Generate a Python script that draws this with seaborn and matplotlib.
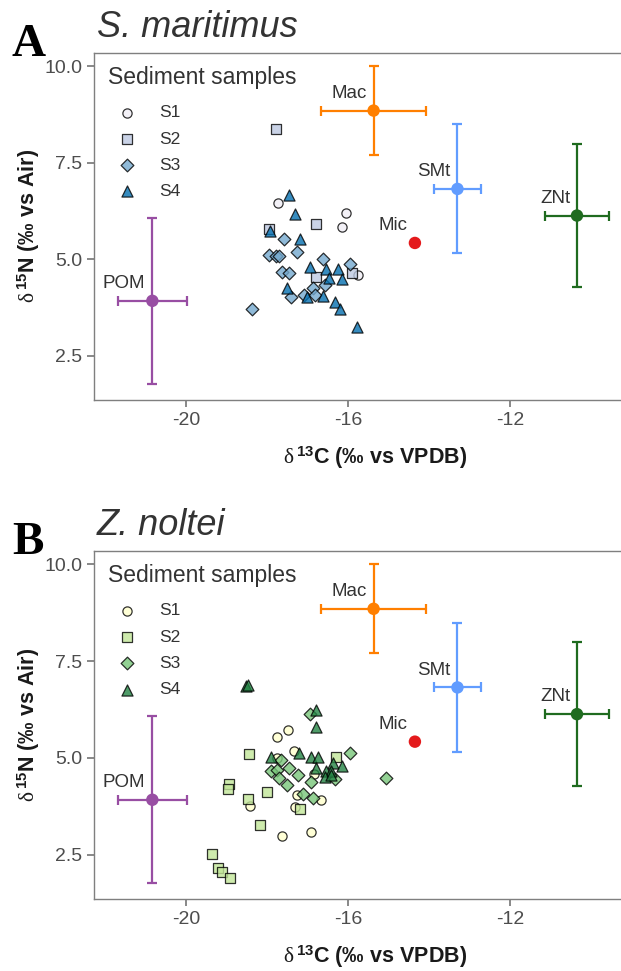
import matplotlib
matplotlib.use("Agg")
import matplotlib.pyplot as plt
import pandas as pd
import seaborn as sns

# sediment samples under S. maritimus (panel A)
sm_s1_c13 = [-17.73, -16.06, -16.15, -15.75]
sm_s1_n15 = [6.45, 6.20, 5.83, 4.58]
sm_s2_c13 = [-17.79, -16.80, -17.95, -16.80, -15.91]
sm_s2_n15 = [8.37, 5.92, 5.77, 4.54, 4.64]
sm_s3_c13 = [-17.58, -17.25, -17.95, -17.79, -17.71, -16.62, -15.96, -17.62,
             -17.46, -16.58, -16.87, -17.08, -16.81, -17.41, -18.37]
sm_s3_n15 = [5.53, 5.18, 5.12, 5.08, 5.07, 5.00, 4.87, 4.67,
             4.63, 4.32, 4.24, 4.06, 4.06, 4.02, 3.72]
sm_s4_c13 = [-17.45, -17.31, -17.93, -17.18, -16.93, -16.54, -16.26, -16.46,
             -16.15, -17.51, -17.01, -16.62, -16.33, -16.21, -15.79]
sm_s4_n15 = [6.65, 6.16, 5.73, 5.53, 4.80, 4.75, 4.75, 4.50,
             4.48, 4.26, 4.02, 4.04, 3.89, 3.72, 3.25]

# sediment samples under Z. noltei (panel B)
zn_s1_c13 = [-17.48, -17.75, -17.33, -17.75, -16.83, -17.26, -16.68, -17.31,
             -18.43, -17.64, -16.91]
zn_s1_n15 = [5.71, 5.54, 5.19, 4.99, 4.58, 4.04, 3.91, 3.74, 3.76, 2.99, 3.08]
zn_s2_c13 = [-18.44, -18.93, -18.96, -18.48, -18.00, -18.18, -17.18, -16.29,
             -19.37, -19.20, -19.11, -18.91]
zn_s2_n15 = [5.10, 4.33, 4.20, 3.95, 4.11, 3.26, 3.67, 5.03, 2.51, 2.16, 2.06, 1.91]
zn_s3_c13 = [-16.95, -17.66, -17.90, -17.75, -17.70, -17.51, -17.46, -17.23,
             -16.91, -15.96, -16.33, -17.10, -16.87, -15.06]
zn_s3_n15 = [6.14, 4.95, 4.65, 4.70, 4.47, 4.31, 4.73, 4.56,
             4.37, 5.14, 4.45, 4.07, 3.97, 4.47]
zn_s4_c13 = [-18.52, -18.46, -16.80, -16.80, -17.90, -17.21, -16.91, -16.75,
             -16.80, -16.37, -16.16, -16.54, -16.41, -16.56, -16.43]
zn_s4_n15 = [6.86, 6.88, 6.24, 5.80, 5.03, 5.12, 5.02, 5.03,
             4.73, 4.86, 4.79, 4.65, 4.65, 4.52, 4.56]

# organic matter sources (mean +- sd)
src_names = ["POM", "Mac", "SMt", "ZNt", "Mic"]
src_c13 = [-20.83, -15.37, -13.30, -10.35, -14.35]
src_n15 = [3.92, 8.85, 6.82, 6.13, 5.42]
src_c13_sd = [0.85, 1.29, 0.57, 0.79, None]
src_n15_sd = [2.15, 1.15, 1.67, 1.86, None]
src_colors = ["#984EA3", "#FF7F00", "#619CFF", "#1F6B1F", "#E41A1C"]

sample_names = ["S1", "S2", "S3", "S4"]
sample_markers = ["o", "s", "D", "^"]
sample_sizes = [44, 46, 42, 64]
sm_palette = ["#F1EEF6", "#BDC9E1", "#74A9CF", "#0570B0"]
zn_palette = ["#FFFFCC", "#C2E699", "#78C679", "#238443"]

y_ticks = [2.5, 5.0, 7.5, 10.0]
x_ticks = [-20, -16, -12]


def make_df(c_lists, n_lists):
    rows = []
    for name, cs, ns in zip(sample_names, c_lists, n_lists):
        for c, n in zip(cs, ns):
            rows.append((name, c, n))
    return pd.DataFrame(rows, columns=["Sample", "d13C", "d15N"])


sm_df = make_df([sm_s1_c13, sm_s2_c13, sm_s3_c13, sm_s4_c13],
                [sm_s1_n15, sm_s2_n15, sm_s3_n15, sm_s4_n15])
zn_df = make_df([zn_s1_c13, zn_s2_c13, zn_s3_c13, zn_s4_c13],
                [zn_s1_n15, zn_s2_n15, zn_s3_n15, zn_s4_n15])

sns.set_style("white")
plt.rcParams["font.family"] = ["Liberation Sans", "DejaVu Sans"]
plt.rcParams["mathtext.fontset"] = "custom"
plt.rcParams["mathtext.rm"] = "Liberation Serif"
plt.rcParams["mathtext.it"] = "Liberation Serif"
plt.rcParams["mathtext.bf"] = "Liberation Sans:bold"

W, H = 621, 971
fig = plt.figure(figsize=(W / 100, H / 100), dpi=100)

# axes boxes in pixels (the right edge runs off the canvas, as in the reference crop)
AX_W, AX_H = 562, 347.3
ax_a = fig.add_axes([94 / W, (H - 400) / H, AX_W / W, AX_H / H])
ax_b = fig.add_axes([94 / W, (H - 899.3) / H, AX_W / W, 348.6 / H])


def draw_panel(ax, df, palette, letter, title, top_px):
    for i, name in enumerate(sample_names):
        sub = df[df["Sample"] == name]
        sns.scatterplot(data=sub, x="d13C", y="d15N", ax=ax,
                        marker=sample_markers[i], s=sample_sizes[i],
                        color=palette[i], edgecolor="black", linewidth=0.9,
                        alpha=0.8, label=name, zorder=2)

    # sources with error bars
    for name, c, n, cs, ns, col in zip(src_names, src_c13, src_n15,
                                       src_c13_sd, src_n15_sd, src_colors):
        if cs is not None:
            ax.errorbar(c, n, xerr=cs, yerr=ns, fmt="none", ecolor=col,
                        elinewidth=1.6, capsize=3.5, capthick=1.6, zorder=3)
        ax.annotate(name, (c, n), xytext=(-5, 12.5), textcoords="offset points",
                    ha="right", va="center", fontsize=13.5, color="#333333")
    sns.scatterplot(x=src_c13, y=src_n15, hue=src_names, palette=src_colors,
                    s=80, edgecolor="none", legend=False, ax=ax, zorder=4)

    ax.set_xlim(-22.27, -8.4)
    ax.set_ylim(1.35, 10.35)
    ax.set_xticks(x_ticks)
    ax.set_xticklabels([str(t) for t in x_ticks])
    ax.set_yticks(y_ticks)
    ax.set_yticklabels([f"{t:.1f}" for t in y_ticks])
    for sp in ax.spines.values():
        sp.set_color("#7F7F7F")
        sp.set_linewidth(1.0)
    ax.tick_params(axis="both", direction="out", length=5, width=1.3,
                   color="#7F7F7F", labelsize=14, labelcolor="#4D4D4D", pad=3.5,
                   left=True, bottom=True)

    ax.set_xlabel(r"$\mathrm{\delta}\,^{\mathbf{13}}$C (‰ vs VPDB)",
                  fontsize=15.5, fontweight="bold", color="#1A1A1A")
    ax.set_ylabel(r"$\mathrm{\delta}\,^{\mathbf{15}}$N (‰ vs Air)",
                  fontsize=15.5, fontweight="bold", color="#1A1A1A")
    ax.xaxis.set_label_coords(0.5, -0.128)
    ax.yaxis.set_label_coords(-0.093, 0.5)

    # legend title drawn as its own text, entries below it
    ax.text(14 / AX_W, 1 - 31.6 / AX_H, "Sediment samples", transform=ax.transAxes,
            fontsize=16.5, color="#333333", ha="left", va="baseline")
    ax.legend(loc="upper left", bbox_to_anchor=(14 / AX_W, 1 - 52.3 / AX_H),
              frameon=False, borderpad=0, borderaxespad=0, fontsize=12.6,
              handlelength=2.15, handletextpad=0.8, labelspacing=0.63,
              labelcolor="#333333")

    fig.text(12 / W, 1 - (top_px + 3) / H, letter, family="Liberation Serif",
             fontweight="bold", fontsize=34, color="black", va="baseline")
    fig.text(97 / W, 1 - (top_px - 16) / H, title, style="italic",
             fontsize=26, color="#333333", va="baseline")


draw_panel(ax_a, sm_df, sm_palette, "A", "S. maritimus", 52.7)
draw_panel(ax_b, zn_df, zn_palette, "B", "Z. noltei", 550.7)

fig.savefig("out.png", dpi=100)
